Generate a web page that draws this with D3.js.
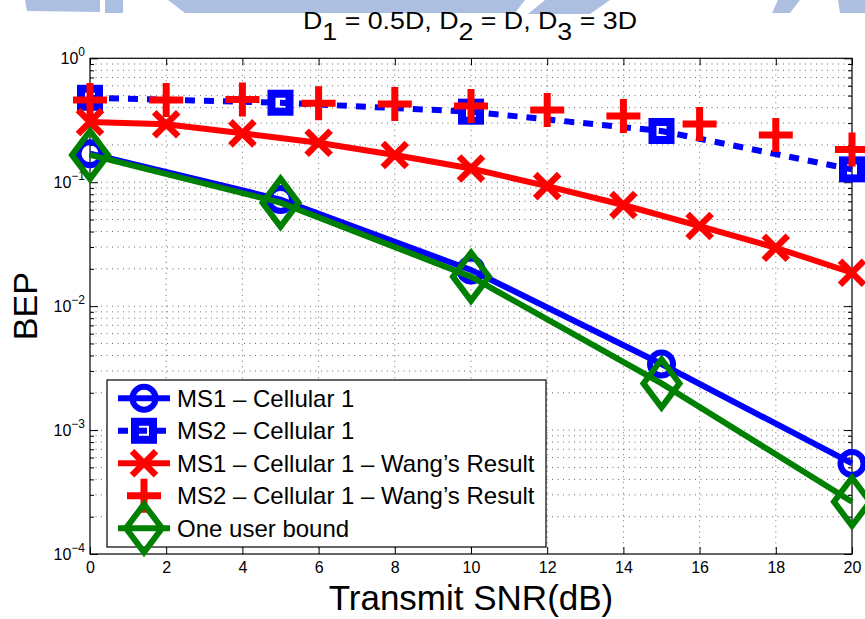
<!DOCTYPE html>
<html>
<head>
<meta charset="utf-8">
<script src="https://cdn.jsdelivr.net/npm/d3@7"></script>
<style>
  body { margin: 0; background: #fff; }
  text { font-family: "Liberation Sans", Arial, Helvetica, sans-serif; fill: #000; }
</style>
</head>
<body>
<div id="chart"></div>
<script>
// data
const snrCoarse = [0, 5, 10, 15, 20];
const snrFine = [0, 2, 4, 6, 8, 10, 12, 14, 16, 18, 20];

const ms1Cell = [0.170, 0.0724, 0.0196, 0.00341, 0.000538];
const ms2Cell = [0.48, 0.438, 0.371, 0.259, 0.127];
const ms1Wang = [0.306, 0.294, 0.248, 0.208, 0.166, 0.129, 0.093, 0.0655, 0.0443, 0.0296, 0.0186];
const ms2Wang = [0.461, 0.461, 0.465, 0.433, 0.428, 0.412, 0.383, 0.342, 0.295, 0.240, 0.184];
const oneUser = [0.166, 0.0684, 0.0173, 0.00238, 0.000264];

const xTicks = [0, 2, 4, 6, 8, 10, 12, 14, 16, 18, 20];
const yTickExps = [0, -1, -2, -3, -4];

const seriesNames = [
    "MS1 \u2013 Cellular 1",
    "MS2 \u2013 Cellular 1",
    "MS1 \u2013 Cellular 1 \u2013 Wang\u2019s Result",
    "MS2 \u2013 Cellular 1 \u2013 Wang\u2019s Result",
    "One user bound"
];

const series = [
    { name: seriesNames[0], x: snrCoarse, y: ms1Cell, color: "#0000ff", marker: "circle", line: "solid" },
    { name: seriesNames[1], x: snrCoarse, y: ms2Cell, color: "#0000ff", marker: "square", line: "dot" },
    { name: seriesNames[2], x: snrFine, y: ms1Wang, color: "#ff0000", marker: "x", line: "solid" },
    { name: seriesNames[3], x: snrFine, y: ms2Wang, color: "#ff0000", marker: "plus", line: "none" },
    { name: seriesNames[4], x: snrCoarse, y: oneUser, color: "#008000", marker: "diamond", line: "solid" }
];

const width = 865;
const height = 619;
const plot = { left: 90, right: 852, top: 58.3, bottom: 554 };

const svg = d3.select("#chart")
    .append("svg")
    .attr("width", width)
    .attr("height", height);

// faint watermark at the top
const wm = svg.append("g").attr("fill", "#adbfe0");
[
    [[25, 0], [100, 0], [100, 12], [27, 11]],
    [[105, 0], [123, 0], [123, 13], [105, 13]],
    [[168, 0], [525, 0], [515, 13], [185, 13]],
    [[545, 0], [610, 0], [590, 14], [528, 14]],
    [[778, 0], [800, 0], [790, 13], [772, 13]],
    [[838, 0], [865, 0], [865, 13], [840, 13]]
].forEach(pts => {
    wm.append("polygon").attr("points", pts.map(p => p.join(",")).join(" "));
});

const xScale = d3.scaleLinear()
    .domain([0, 20])
    .range([plot.left, plot.right]);

const yScale = d3.scaleLog()
    .domain([1e-4, 1])
    .range([plot.bottom, plot.top]);

const plotW = plot.right - plot.left;
const plotH = plot.bottom - plot.top;

// grid
const grid = svg.append("g")
    .attr("stroke", "#444")
    .attr("stroke-width", 0.8)
    .attr("stroke-dasharray", "1,4.5");

const yAll = yScale.ticks();
grid.selectAll("line.h")
    .data(yAll.filter(v => v > 1e-4 && v < 1))
    .join("line")
    .attr("x1", plot.left)
    .attr("x2", plot.right)
    .attr("y1", d => yScale(d))
    .attr("y2", d => yScale(d));

grid.selectAll("line.v")
    .data(xTicks.slice(1, -1))
    .join("line")
    .attr("x1", d => xScale(d))
    .attr("x2", d => xScale(d))
    .attr("y1", plot.top)
    .attr("y2", plot.bottom);

// axes (ticks pointing inward, box on)
const axisStyle = g => {
    g.select(".domain").remove();
    g.selectAll("line").attr("stroke", "#000");
};

svg.append("g")
    .attr("transform", `translate(0, ${plot.bottom})`)
    .call(d3.axisBottom(xScale).tickValues(xTicks).tickSizeInner(-7).tickSizeOuter(0).tickPadding(8))
    .call(axisStyle)
    .call(g => g.selectAll("text")
        .attr("font-size", 16)
        .attr("font-family", "Liberation Sans, Arial, sans-serif"));

svg.append("g")
    .attr("transform", `translate(0, ${plot.top})`)
    .call(d3.axisTop(xScale).tickValues(xTicks).tickSizeInner(-7).tickSizeOuter(0).tickFormat(""))
    .call(axisStyle);

const majorY = yTickExps.map(e => Math.pow(10, e));
const minorY = yAll.filter(v => !majorY.some(m => Math.abs(m - v) / m < 1e-6));

[[d3.axisLeft, plot.left], [d3.axisRight, plot.right]].forEach(([axisFn, xPos]) => {
    svg.append("g")
        .attr("transform", `translate(${xPos}, 0)`)
        .call(axisFn(yScale).tickValues(majorY).tickSizeInner(-8).tickSizeOuter(0).tickFormat(""))
        .call(axisStyle);
    svg.append("g")
        .attr("transform", `translate(${xPos}, 0)`)
        .call(axisFn(yScale).tickValues(minorY).tickSizeInner(-4).tickSizeOuter(0).tickFormat(""))
        .call(axisStyle);
});

svg.append("rect")
    .attr("x", plot.left)
    .attr("y", plot.top)
    .attr("width", plotW)
    .attr("height", plotH)
    .attr("fill", "none")
    .attr("stroke", "#000")
    .attr("stroke-width", 1.2);

// y tick labels 10^n
yTickExps.forEach(e => {
    const yy = yScale(Math.pow(10, e)) + 6;
    const t = svg.append("text")
        .attr("x", 85)
        .attr("y", yy)
        .attr("text-anchor", "end")
        .attr("font-size", 16);
    t.append("tspan").text("10");
    t.append("tspan")
        .attr("dy", -8)
        .attr("font-size", 12)
        .text(e === 0 ? "0" : "\u2212" + Math.abs(e));
});

// marker shapes
const drawMarker = (g, type, cx, cy, color) => {
    const m = g.append("g")
        .attr("transform", `translate(${cx}, ${cy})`)
        .attr("fill", "none")
        .attr("stroke", color);
    if (type === "circle") {
        m.append("circle").attr("r", 11.5).attr("stroke-width", 6);
    } else if (type === "square") {
        m.append("rect").attr("x", -9).attr("y", -9).attr("width", 18).attr("height", 18).attr("stroke-width", 8);
    } else if (type === "x") {
        m.append("path").attr("d", "M-12,-12L12,12M-12,12L12,-12").attr("stroke-width", 6.5);
    } else if (type === "plus") {
        m.append("path").attr("d", "M-17,0L17,0M0,-17L0,17").attr("stroke-width", 7);
    } else if (type === "diamond") {
        m.append("path").attr("d", "M0,-24L18,0L0,24L-18,0Z").attr("stroke-width", 6).attr("stroke-linejoin", "miter");
    }
};

const lineGen = d3.line()
    .x(d => xScale(d[0]))
    .y(d => yScale(d[1]));

series.forEach(s => {
    const pts = s.x.map((v, i) => [v, s.y[i]]);
    if (s.line !== "none") {
        svg.append("path")
            .attr("d", lineGen(pts))
            .attr("fill", "none")
            .attr("stroke", s.color)
            .attr("stroke-width", 6)
            .attr("stroke-dasharray", s.line === "dot" ? "10,9" : null);
    }
    const mg = svg.append("g");
    pts.forEach(p => drawMarker(mg, s.marker, xScale(p[0]), yScale(p[1]), s.color));
});

// legend
const legend = svg.append("g");
legend.append("rect")
    .attr("x", 107)
    .attr("y", 380)
    .attr("width", 439)
    .attr("height", 167)
    .attr("fill", "#fff")
    .attr("stroke", "#000")
    .attr("stroke-width", 1.2);

series.forEach((s, i) => {
    const ly = 398.3 + i * 32.5;
    if (s.line !== "none") {
        legend.append("line")
            .attr("x1", 118)
            .attr("x2", 170)
            .attr("y1", ly)
            .attr("y2", ly)
            .attr("stroke", s.color)
            .attr("stroke-width", 6)
            .attr("stroke-dasharray", s.line === "dot" ? "10,9" : null);
    }
    drawMarker(legend, s.marker, 144, ly, s.color);
    legend.append("text")
        .attr("x", 177)
        .attr("y", ly + 8.5)
        .attr("font-size", 24)
        .text(s.name);
});

// title with subscripts
const title = svg.append("text")
    .attr("x", 303)
    .attr("y", 29)
    .attr("font-size", 23)
    .attr("textLength", 334)
    .attr("lengthAdjust", "spacingAndGlyphs");
[["D", 0], ["1", 11], [" = 0.5D, D", -11], ["2", 11], [" = D, D", -11], ["3", 11], [" = 3D", -11]]
    .forEach(([txt, dy]) => title.append("tspan").attr("dy", dy).text(txt));

// axis labels
svg.append("text")
    .attr("x", (plot.left + plot.right) / 2)
    .attr("y", 610)
    .attr("text-anchor", "middle")
    .attr("font-size", 35)
    .text("Transmit SNR(dB)");

svg.append("text")
    .attr("transform", `translate(37, ${(plot.top + plot.bottom) / 2}) rotate(-90)`)
    .attr("text-anchor", "middle")
    .attr("font-size", 34)
    .text("BEP");
</script>
</body>
</html>
